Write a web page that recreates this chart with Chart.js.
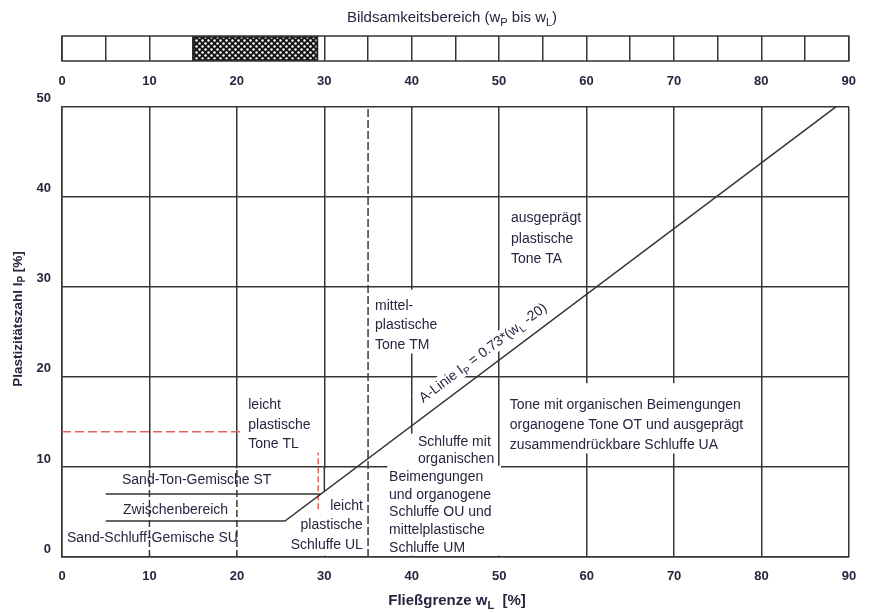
<!DOCTYPE html>
<html lang="de">
<head>
<meta charset="UTF-8">
<title>Plastizitätsdiagramm</title>
<script src="https://cdn.jsdelivr.net/npm/chart.js@4.5.0/dist/chart.umd.min.js"></script>
<style>
  body { margin: 0; background: #fff; }
  canvas { display: block; }
</style>
</head>
<body>
<canvas id="band" width="869" height="88"></canvas>
<canvas id="plasti" width="869" height="525"></canvas>

<script>
// Werte
const wLMax = 90;
const ipMax = 50;

// Bildsamkeitsbereich (wP bis wL)
const bandRange = [15, 29.3];

// A-Linie Ip = 0.73 (wL - 20), mit Fuß auf Ip = 4
const aLineWL = [5, 25.5, 88.5];
const aLineIp = [4, 4, 50];

// Obergrenze Zwischenbereich
const stLineWL = [5, 29.6];
const stLineIp = [7, 7];

// wL = 30 zwischen A-Linie und Ip = 10
const ulLineWL = [30, 30];
const ulLineIp = [7.3, 10];

// gestrichelte Grenze wL = 35
const tmLineWL = [35, 35];
const tmLineIp = [0, 50];

// gestrichelte Gitterlinien unter Ip = 10
const lowGridWL = [10, 20];
const lowGridIp = [0, 10];

// rote Markierungen
const redHWL = [0, 20.7];
const redHIp = [13.9, 13.9];
const redVWL = [29.3, 29.3];
const redVIp = [5.3, 11.6];

const FONT = "'Liberation Sans', Arial, sans-serif";
const INK = '#25263f';
const GRID = '#353535';

// Beschriftungen (Position in Diagrammeinheiten)
const textLabels = [
  { lines: ['ausgeprägt', 'plastische', 'Tone TA'], wL: 51.35, ip: 37.6, lh: 20.5 },
  { lines: ['mittel-', 'plastische', 'Tone TM'], wL: 35.8, ip: 27.9, lh: 19.5 },
  { lines: ['leicht', 'plastische', 'Tone TL'], wL: 21.3, ip: 16.85, lh: 19.5 },
  { lines: ['Tone mit organischen Beimengungen', 'organogene Tone OT und ausgeprägt', 'zusammendrückbare Schluffe UA'], wL: 51.2, ip: 16.85, lh: 20 },
  { lines: ['Schluffe mit', 'organischen'], wL: 40.7, ip: 12.75, lh: 17 },
  { lines: ['Beimengungen', 'und organogene', 'Schluffe OU und', 'mittelplastische', 'Schluffe UM'], wL: 37.4, ip: 8.87, lh: 17.7 },
  { lines: ['Sand-Ton-Gemische ST'], wL: 6.86, ip: 8.54, lh: 18 },
  { lines: ['Zwischenbereich'], wL: 6.98, ip: 5.21, lh: 18 },
  { lines: ['Sand-Schluff-Gemische SU'], wL: 0.57, ip: 2.1, lh: 18 },
  { lines: ['leicht', 'plastische', 'Schluffe UL'], wL: 34.4, ip: 5.65, lh: 19.5, align: 'right' }
];

// weiße Flächen hinter Beschriftungen (verdecken Gitterlinien)
const coverBoxes = [
  { wL: [50.2, 79.8], ip: [11.5, 19.3] },
  { wL: [39.8, 49.8], ip: [10.0, 13.7] },
  { wL: [37.2, 50.2], ip: [0.15, 10.15] },
  { wL: [35.4, 43.0], ip: [22.6, 29.7] },
  { wL: [0.15, 34.9], ip: [0.15, 9.85] }
];

function drawRich(ctx, parts, x, y, size, align) {
  const subSize = Math.round(size * 0.72);
  let total = 0;
  parts.forEach(p => {
    ctx.font = (p.bold ? 'bold ' : '') + (p.sub ? subSize : size) + 'px ' + FONT;
    p.w = ctx.measureText(p.t).width;
    total += p.w;
  });
  let cx = align === 'left' ? x : x - total / 2;
  ctx.textAlign = 'left';
  ctx.textBaseline = 'middle';
  parts.forEach(p => {
    ctx.font = (p.bold ? 'bold ' : '') + (p.sub ? subSize : size) + 'px ' + FONT;
    ctx.fillText(p.t, cx, p.sub ? y + size * 0.35 : y);
    cx += p.w;
  });
  return total;
}

function seg(xs, ys, color, width, dash) {
  return {
    data: xs.map((x, i) => ({ x: x, y: ys[i] })),
    borderColor: color,
    borderWidth: width,
    borderDash: dash || [],
    pointRadius: 0,
    fill: false,
    tension: 0
  };
}

// ---------- Bildsamkeitsbereich-Leiste ----------
function hatchPattern() {
  const c = document.createElement('canvas');
  c.width = 6; c.height = 6;
  const g = c.getContext('2d');
  g.fillStyle = '#161616';
  g.fillRect(0, 0, 6, 6);
  g.fillStyle = '#fff';
  [[1.5, 1.5], [4.5, 4.5]].forEach(p => {
    g.beginPath();
    g.arc(p[0], p[1], 1.25, 0, 2 * Math.PI);
    g.fill();
  });
  return g.createPattern(c, 'repeat');
}

const bandDeco = {
  id: 'bandDeco',
  afterDatasetsDraw(chart) {
    const { ctx, chartArea: a } = chart;
    ctx.save();
    ctx.strokeStyle = GRID;
    ctx.lineWidth = 1.5;
    ctx.strokeRect(a.left, a.top, a.right - a.left, a.bottom - a.top);
    ctx.fillStyle = INK;
    drawRich(ctx, [
      { t: 'Bildsamkeitsbereich (w' }, { t: 'P', sub: true },
      { t: ' bis w' }, { t: 'L', sub: true }, { t: ')' }
    ], 452, 18, 15, 'center');
    ctx.restore();
  }
};

new Chart(document.getElementById('band'), {
  type: 'bar',
  data: {
    labels: ['Bildsamkeitsbereich'],
    datasets: [{
      data: [bandRange],
      backgroundColor: hatchPattern(),
      borderColor: '#222',
      borderWidth: 2,
      borderSkipped: false,
      barPercentage: 1,
      categoryPercentage: 1
    }]
  },
  options: {
    indexAxis: 'y',
    responsive: false,
    animation: false,
    devicePixelRatio: 1,
    layout: { padding: { left: 62, right: 20, top: 36, bottom: 0 } },
    plugins: { legend: { display: false }, tooltip: { enabled: false } },
    scales: {
      x: {
        type: 'linear', min: 0, max: wLMax, position: 'bottom',
        afterFit: s => { s.height = 27; },
        ticks: {
          stepSize: 5, autoSkip: false, maxRotation: 0, padding: 13,
          callback: v => (v % 10 === 0 ? v : ''),
          color: INK, font: { family: FONT, size: 13, weight: 'bold' }
        },
        grid: { color: GRID, lineWidth: 1.5, drawTicks: false },
        border: { display: false }
      },
      y: { display: false }
    }
  },
  plugins: [bandDeco]
});

// ---------- Plastizitätsdiagramm ----------
const plastiDeco = {
  id: 'plastiDeco',
  beforeDatasetsDraw(chart) {
    const { ctx, scales: { x, y } } = chart;
    ctx.save();
    ctx.fillStyle = '#fff';
    coverBoxes.forEach(b => {
      const x0 = x.getPixelForValue(b.wL[0]), x1 = x.getPixelForValue(b.wL[1]);
      const y0 = y.getPixelForValue(b.ip[1]), y1 = y.getPixelForValue(b.ip[0]);
      ctx.fillRect(x0, y0, x1 - x0, y1 - y0);
    });
    ctx.restore();
  },
  afterDatasetsDraw(chart) {
    const { ctx, scales: { x, y } } = chart;
    ctx.save();
    ctx.fillStyle = INK;
    ctx.textBaseline = 'middle';
    ctx.font = '14px ' + FONT;
    textLabels.forEach(l => {
      ctx.textAlign = l.align || 'left';
      const px = x.getPixelForValue(l.wL);
      const py = y.getPixelForValue(l.ip);
      l.lines.forEach((s, i) => ctx.fillText(s, px, py + i * l.lh));
    });

    // Beschriftung der A-Linie
    const ax0 = x.getPixelForValue(aLineWL[1]), ay0 = y.getPixelForValue(aLineIp[1]);
    const ax1 = x.getPixelForValue(aLineWL[2]), ay1 = y.getPixelForValue(aLineIp[2]);
    const ang = Math.atan2(ay1 - ay0, ax1 - ax0);
    const t = (49.2 - aLineWL[1]) / (aLineWL[2] - aLineWL[1]);
    const cx = ax0 + t * (ax1 - ax0), cy = ay0 + t * (ay1 - ay0);
    ctx.translate(cx, cy);
    ctx.rotate(ang);
    ctx.translate(0, -15);
    ctx.fillStyle = '#fff';
    ctx.fillRect(-82, -9, 164, 17);
    ctx.fillStyle = INK;
    drawRich(ctx, [
      { t: 'A-Linie I' }, { t: 'P', sub: true }, { t: ' = 0.73*(w' },
      { t: 'L', sub: true }, { t: ' -20)' }
    ], 0, 0, 14, 'center');
    ctx.restore();

    // Achsentitel
    const top = chart.canvas.offsetTop;
    ctx.save();
    ctx.fillStyle = INK;
    drawRich(ctx, [
      { t: 'Fließgrenze w', bold: true }, { t: 'L', sub: true, bold: true }, { t: '  [%]', bold: true }
    ], 457, 601 - top, 15, 'center');
    ctx.translate(18, 319 - top);
    ctx.rotate(-Math.PI / 2);
    drawRich(ctx, [
      { t: 'Plastizitätszahl I', bold: true }, { t: 'P', sub: true, bold: true }, { t: ' [%]', bold: true }
    ], 0, 0, 13.5, 'center');
    ctx.restore();
  }
};

new Chart(document.getElementById('plasti'), {
  type: 'line',
  data: {
    datasets: [
      seg([lowGridWL[0], lowGridWL[0]], lowGridIp, GRID, 1.5, [7, 3]),
      seg([lowGridWL[1], lowGridWL[1]], lowGridIp, GRID, 1.5, [7, 3]),
      seg(ulLineWL, ulLineIp, GRID, 1.5),
      seg(stLineWL, stLineIp, GRID, 1.5),
      seg(aLineWL, aLineIp, GRID, 1.5),
      seg(tmLineWL, tmLineIp, '#3a3a3a', 1.5, [8, 3]),
      seg(redHWL, redHIp, '#e5645a', 1.5, [9, 4]),
      seg(redVWL, redVIp, '#e5645a', 1.5, [6, 3])
    ]
  },
  options: {
    responsive: false,
    animation: false,
    devicePixelRatio: 1,
    layout: { padding: { top: 10, right: 20, left: 0, bottom: 0 } },
    plugins: { legend: { display: false }, tooltip: { enabled: false } },
    scales: {
      x: {
        type: 'linear', min: 0, max: wLMax,
        afterFit: s => { s.height = 56; },
        ticks: {
          stepSize: 10, maxRotation: 0, padding: 12,
          color: INK, font: { family: FONT, size: 13, weight: 'bold' }
        },
        grid: { color: GRID, lineWidth: 1.5, drawTicks: false },
        border: { display: true, color: GRID, width: 1.5 }
      },
      y: {
        type: 'linear', min: 0, max: ipMax,
        afterFit: s => { s.width = 62; },
        ticks: {
          stepSize: 10, padding: 11, labelOffset: -8,
          color: INK, font: { family: FONT, size: 13, weight: 'bold' }
        },
        grid: { color: GRID, lineWidth: 1.5, drawTicks: false },
        border: { display: true, color: GRID, width: 1.5 }
      }
    }
  },
  plugins: [plastiDeco]
});
</script>
</body>
</html>
